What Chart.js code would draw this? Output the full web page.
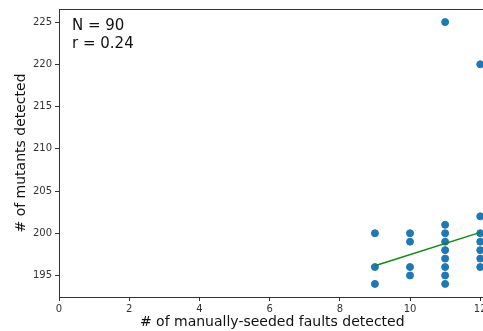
<!DOCTYPE html>
<html><head><meta charset="utf-8">
<script src="https://cdn.jsdelivr.net/npm/chart.js@4/dist/chart.umd.min.js"></script>
<style>html,body{margin:0;padding:0;overflow:hidden;background:#fff}#wrap{width:490px;height:331px}</style>
</head><body><div id="wrap"><canvas id="c" width="490" height="331"></canvas></div>
<script>
const faultsX = [9,9,9, 10,10,10,10, 11,11,11,11,11,11,11,11,11, 12,12,12,12,12,12,12];
const mutantsY = [200,196,194, 200,199,196,195, 225,201,200,199,198,197,196,195,194, 220,202,200,199,198,197,196];
const fitX = [9, 12];
const fitY = [196.15, 200.1];
const xTicks = [0,2,4,6,8,10,12];
const yTicks = [195,200,205,210,215,220,225];
const annotLines = ["N = 90", "r = 0.24"];
const xTitle = "# of manually-seeded faults detected";
const yTitle = "# of mutants detected";

const font = "'DejaVu Sans', sans-serif";
const axisColor = '#333';
const textPlugin = {
  id: 'txt',
  afterDraw(chart) {
    const {ctx, chartArea} = chart;
    ctx.save();
    ctx.strokeStyle = axisColor; ctx.lineWidth = 1;
    ctx.beginPath(); ctx.moveTo(chartArea.left, chartArea.top + 0.5); ctx.lineTo(chartArea.right, chartArea.top + 0.5); ctx.stroke();
    ctx.fillStyle = '#111';
    ctx.font = "15px " + font;
    ctx.textBaseline = 'middle';
    annotLines.forEach((t, i) => ctx.fillText(t, chartArea.left + 13, chartArea.top + 17 + i * 18));
    ctx.restore();
  }
};

new Chart(document.getElementById('c'), {
  data: {
    datasets: [
      { type: 'scatter', data: faultsX.map((x, i) => ({x, y: mutantsY[i]})),
        backgroundColor: '#1f77b4', borderColor: '#1f77b4', pointRadius: 3.5, pointHoverRadius: 3.5, order: 2 },
      { type: 'line', data: fitX.map((x, i) => ({x, y: fitY[i]})),
        borderColor: '#118811', borderWidth: 1.5, pointRadius: 0, fill: false, order: 1 }
    ]
  },
  options: {
    responsive: false, animation: false,
    layout: { padding: { top: 9, right: 4, left: 0, bottom: 0 } },
    plugins: { legend: { display: false }, tooltip: { enabled: false } },
    scales: {
      x: {
        type: 'linear', min: 0, max: 12.15,
        afterBuildTicks: s => { s.ticks = xTicks.map(v => ({value: v})); },
        afterFit: s => { s.height = 34; },
        grid: { display: true, drawOnChartArea: false, drawTicks: true, tickLength: 4, color: axisColor },
        border: { display: true, color: axisColor, width: 1 },
        ticks: { color: '#333', font: { family: font, size: 10 }, padding: 2, maxRotation: 0 },
        title: { display: true, text: xTitle, color: '#111', font: { family: font, size: 14 }, padding: { top: 0, bottom: 0 } }
      },
      y: {
        type: 'linear', min: 192.45, max: 226.55,
        afterBuildTicks: s => { s.ticks = yTicks.map(v => ({value: v})); },
        afterFit: s => { s.width = 59; },
        grid: { display: true, drawOnChartArea: false, drawTicks: true, tickLength: 4, color: axisColor },
        border: { display: true, color: axisColor, width: 1 },
        ticks: { color: '#333', font: { family: font, size: 10 }, padding: 3 },
        title: { display: true, text: yTitle, color: '#111', font: { family: font, size: 14 }, padding: { top: 13, bottom: 0 } }
      }
    }
  },
  plugins: [textPlugin]
});
</script></body></html>
